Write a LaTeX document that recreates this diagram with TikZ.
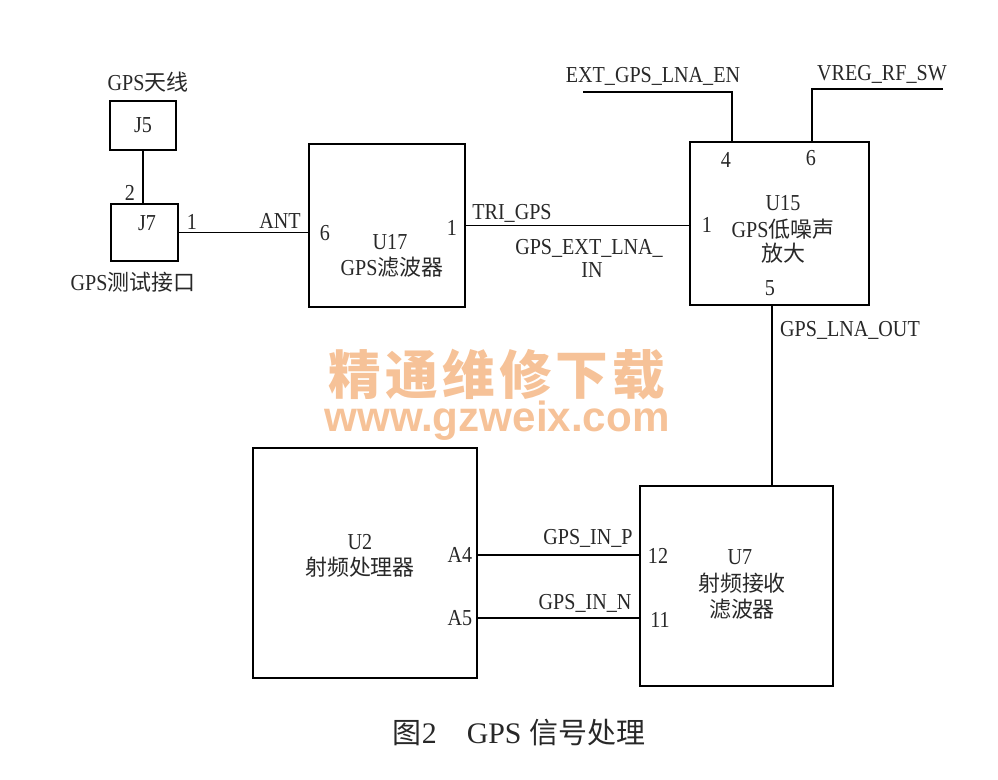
\documentclass[tikz,border=0pt]{standalone}
\usepackage{fontspec}
\setmainfont{Liberation Serif}
\newfontfamily\pinfont[FakeStretch=0.88]{Liberation Serif}
\newfontfamily\cjk{Noto Sans CJK SC}
\newfontfamily\markzh[LetterSpace=8]{Noto Sans CJK SC}
\newfontfamily\markurl{Liberation Sans}
\newcommand{\zhtxt}[1]{{\cjk\fontsize{12.5}{12.5}\selectfont #1}}
\newcommand{\capzh}[1]{{\cjk\fontsize{16.5}{16.5}\selectfont #1}}
\definecolor{ink}{RGB}{40,40,40}
\definecolor{markcol}{RGB}{246,194,152}
\usetikzlibrary{positioning}

\begin{document}
\begin{tikzpicture}[x=0.02cm,y=-0.02cm,
  every node/.style={text=ink},
  box/.style={draw=black,line width=1pt,inner sep=0pt},
  wire/.style={draw=black,line width=1pt},
  pin/.style={font=\pinfont\fontsize{13}{13}\selectfont,inner sep=0pt}]
\useasboundingbox (0,0) rectangle (998,780);
% boxes
\node[box,minimum width=1.32cm,minimum height=0.98cm,pin] (J5) at (143,125.5) {J5};
\node[box,minimum width=1.34cm,minimum height=1.14cm] (J7) at (144.5,232.5) {};
\node[box,minimum width=3.12cm,minimum height=3.26cm] (U17) at (387,225.5) {};
\node[box,minimum width=3.58cm,minimum height=3.26cm] (U15) at (779.5,223.5) {};
\node[box,minimum width=4.48cm,minimum height=4.60cm] (U2) at (365,563) {};
\node[box,minimum width=3.86cm,minimum height=4.00cm] (U7) at (736.5,586) {};
% names
\node[pin] (ant) at (148,82) {GPS\zhtxt{天线}};
\node[pin] (J7name) at (147,223) {J7};
\node[pin] (test) at (133,282) {GPS\zhtxt{测试接口}};
\node[pin] (U17name) at (390,242) {U17};
\node[pin] (U17txt) at (392,267) {GPS\zhtxt{滤波器}};
\node[pin] (U15name) at (783,203) {U15};
\node[pin] (U15txt) at (783,229) {GPS\zhtxt{低噪声}};
\node[pin] (U15txtb) at (783,253) {\zhtxt{放大}};
\node[pin] (U2name) at (360,542) {U2};
\node[pin] (U2txt) at (360,567) {\zhtxt{射频处理器}};
\node[pin] (U7name) at (740,557) {U7};
\node[pin] (U7txt) at (742,583) {\zhtxt{射频接收}};
\node[pin] (U7txtb) at (742,609) {\zhtxt{滤波器}};
% pins
\node[pin] (p2) at (130,193) {2};
\node[pin] (p1a) at (192,222) {1};
\node[pin] (p6a) at (325,233) {6};
\node[pin] (p1b) at (452,228) {1};
\node[pin] (p1c) at (707,225) {1};
\node[pin] (p4) at (726,160) {4};
\node[pin] (p6b) at (811,158) {6};
\node[pin] (p5) at (770,288) {5};
\node[pin] (pA4) at (460,555) {A4};
\node[pin] (pA5) at (460,618) {A5};
\node[pin] (p12) at (658,556) {12};
\node[pin] (p11) at (660,620) {11};
% nets
\coordinate (enEnd) at (583,92);
\coordinate (swEnd) at (943,89);
\draw[wire] (J5.south) -- (J5.south |- J7.north);
\draw[wire] (J7.east) -- (J7.east -| U17.west);
\draw[wire] (U17.east) -- (U17.east -| U15.west);
\draw[wire] (enEnd) -| (U15.north -| 732,0);
\draw[wire] (swEnd) -| (U15.north -| 812,0);
\draw[wire] (U15.south -| 772,0) -- (U7.north -| 772,0);
\draw[wire] (U2.east |- 0,555) -- (U7.west |- 0,555);
\draw[wire] (U2.east |- 0,618) -- (U7.west |- 0,618);
\node[pin] (antnet) at (280,221) {ANT};
\node[pin] (trinet) at (512,213) {TRI\_GPS};
\node[pin] (extnet) at (589,248) {GPS\_EXT\_LNA\_};
\node[pin] (extnetb) at (592,270) {IN};
\node[pin] (ennet) at (653,76) {EXT\_GPS\_LNA\_EN};
\node[pin] (swnet) at (882,74) {VREG\_RF\_SW};
\node[pin] (outnet) at (850,330) {GPS\_LNA\_OUT};
\node[pin] (innetp) at (588,538) {GPS\_IN\_P};
\node[pin] (innetn) at (585,603) {GPS\_IN\_N};
% watermark
\node[text=markcol,font=\markzh\bfseries\fontsize{30}{30}\selectfont,inner sep=0pt] (wmzh) at (497,375) {精通维修下载};
\node[text=markcol,font=\markurl\bfseries\fontsize{24}{24}\selectfont,inner sep=0pt] (wmurl) at (497,421) {www.gzweix.com};
% caption
\node[font=\fontsize{17}{17}\selectfont,inner sep=0pt] (cap) at (519,733) {\capzh{图}2\quad GPS \capzh{信号处理}};
\end{tikzpicture}
\end{document}
